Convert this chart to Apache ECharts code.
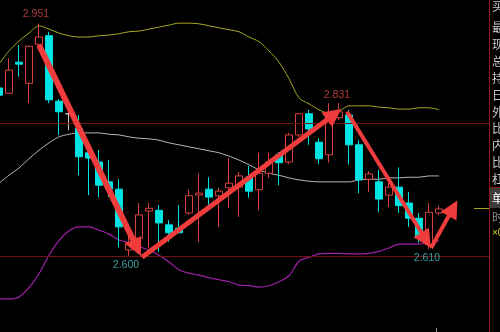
<!DOCTYPE html>
<html><head><meta charset="utf-8">
<script src="https://cdn.jsdelivr.net/npm/echarts@6/dist/echarts.min.js"></script>
<style>html,body{margin:0;padding:0;background:#000;}#c{width:500px;height:332px;}</style>
</head><body><div id="c"></div>
<script>
// ---- data ----
const slotCount = 50; // 45 candles + empty slots to the right
const opens  = [2.854,2.846,2.893,2.861,2.920,2.933,2.834,2.815,2.793,2.756,2.742,2.712,2.701,2.609,2.627,2.668,2.669,2.647,2.642,2.665,2.692,2.701,2.691,2.703,2.704,2.719,2.700,2.725,2.753,2.742,2.783,2.815,2.772,2.753,2.809,2.813,2.768,2.716,2.712,2.692,2.704,2.680,2.657,2.617,2.665];
const closes = [2.843,2.881,2.890,2.917,2.931,2.836,2.818,2.815,2.750,2.748,2.707,2.701,2.644,2.620,2.662,2.672,2.650,2.635,2.635,2.691,2.695,2.689,2.698,2.710,2.721,2.698,2.725,2.742,2.741,2.783,2.815,2.792,2.747,2.813,2.818,2.768,2.715,2.724,2.686,2.704,2.676,2.657,2.627,2.666,2.671];
const lows   = [2.840,2.846,2.871,2.831,2.914,2.831,2.783,2.790,2.722,2.692,2.689,2.689,2.613,2.600,2.618,2.612,2.606,2.621,2.635,2.662,2.621,2.677,2.644,2.672,2.659,2.688,2.669,2.718,2.707,2.739,2.780,2.768,2.739,2.741,2.806,2.738,2.695,2.697,2.666,2.674,2.665,2.644,2.620,2.610,2.662];
const highs  = [2.857,2.899,2.919,2.917,2.951,2.939,2.837,2.831,2.813,2.765,2.760,2.745,2.716,2.635,2.680,2.680,2.677,2.654,2.677,2.700,2.725,2.719,2.703,2.748,2.727,2.736,2.756,2.756,2.757,2.786,2.816,2.821,2.778,2.831,2.831,2.821,2.775,2.728,2.730,2.715,2.734,2.697,2.665,2.680,2.676];
const dojiIndex = [7];
const upperBand = [2.890,2.910,2.925,2.937,2.948,2.943,2.937,2.933,2.931,2.931,2.933,2.934,2.936,2.939,2.940,2.943,2.946,2.949,2.952,2.952,2.951,2.948,2.945,2.942,2.939,2.931,2.924,2.910,2.893,2.868,2.839,2.830,2.821,2.816,2.819,2.827,2.827,2.827,2.825,2.824,2.822,2.822,2.824,2.824,2.821];
const midBand   = [2.710,2.722,2.733,2.747,2.760,2.771,2.780,2.784,2.786,2.786,2.786,2.784,2.783,2.780,2.778,2.777,2.775,2.771,2.768,2.765,2.762,2.759,2.756,2.751,2.745,2.738,2.730,2.725,2.722,2.718,2.715,2.713,2.712,2.712,2.712,2.712,2.715,2.716,2.716,2.718,2.718,2.719,2.719,2.721,2.721];
const lowerBand = [2.535,2.535,2.538,2.552,2.573,2.601,2.623,2.638,2.644,2.644,2.639,2.633,2.624,2.620,2.614,2.609,2.601,2.591,2.579,2.574,2.571,2.567,2.564,2.561,2.556,2.555,2.553,2.555,2.561,2.570,2.592,2.598,2.603,2.604,2.604,2.603,2.603,2.604,2.607,2.612,2.618,2.618,2.618,2.620,2.623];
const levelLines = [2.802, 2.597];
// arrows: [startIndex, startPrice, endIndex, endPrice]
const arrowStartX = [4.0, 14.3, 34.8, 43.2];
const arrowStartY = [2.919, 2.598, 2.818, 2.612];
const arrowEndX   = [13.8, 33.5, 42.7, 45.4];
const arrowEndY   = [2.612, 2.814, 2.624, 2.672];
// price tags
const tagText  = ['2.951', '2.600', '2.831', '2.610'];
const tagX     = [3.7, 12.7, 33.8, 42.8];
const tagY     = [2.966, 2.586, 2.843, 2.596];
const tagColor = ['#d84848', '#48c4c4', '#d84848', '#48c4c4'];
// right-hand panel labels
const panelLabels = ['买','最','现','总','持','日','外','比','内','比','杠','单','时','×0'];
const panelLabelY = [6,27,44,61,78,95,112,128,145,162,179,198,217,233];

// ---- build ----
const UP = '#d84040', DOWN = '#00e4e4';
const arrowWidths = [6, 5, 4, 4];
const cats = Array.from({length: slotCount}, (_, i) => String(i));
const candleData = opens.map((o, i) => {
  const v = [o, closes[i], lows[i], highs[i]];
  if (dojiIndex.includes(i)) return {value: v, itemStyle: {color: '#c8c8c8', borderColor: '#c8c8c8', color0: '#c8c8c8', borderColor0: '#c8c8c8'}};
  return v;
});
const arrows = arrowStartX.map((x, i) => ({coords: [[x, arrowStartY[i]], [arrowEndX[i], arrowEndY[i]]],
  lineStyle: {width: arrowWidths[i]}}));
const tags = tagText.map((t, i) => ({name: t, value: [tagX[i], tagY[i]], label: {color: tagColor[i]}}));

const graphics = [
  {type: 'line', shape: {x1: 489.5, y1: 0, x2: 489.5, y2: 332}, style: {stroke: '#8a1a1a', lineWidth: 1}, z: 10},
  {type: 'rect', shape: {x: 490, y: 188, width: 12, height: 20}, style: {fill: '#3c3c3c'}, z: 9},
  {type: 'line', shape: {x1: 490, y1: 187.5, x2: 500, y2: 187.5}, style: {stroke: '#8a1a1a', lineWidth: 1}, z: 10},
  {type: 'line', shape: {x1: 474, y1: 208.5, x2: 489, y2: 208.5}, style: {stroke: '#a8a820', lineWidth: 1}, z: 10},
  {type: 'line', shape: {x1: 436.5, y1: 328, x2: 436.5, y2: 332}, style: {stroke: '#909090', lineWidth: 1}, z: 10}
];
panelLabels.forEach((t, i) => {
  let fill = '#c8c8c8';
  if (t === '单') fill = '#ffffff';
  if (t === '时') fill = '#8a8a8a';
  if (t === '×0') fill = '#d0d020';
  graphics.push({type: 'text', style: {text: t, x: 492, y: panelLabelY[i], fill: fill,
    font: (t === '×0' ? '10px "Liberation Sans"' : '12px "Noto Sans CJK SC"'), textVerticalAlign: 'middle', textAlign: 'left'}, z: 11});
});

const chart = echarts.init(document.getElementById('c'), null, {renderer: 'canvas'});
chart.setOption({
  backgroundColor: '#000',
  animation: false,
  grid: {left: -1, right: 11, top: 0, bottom: 0, containLabel: false, outerBoundsMode: 'none'},
  xAxis: [
    {type: 'category', data: cats, boundaryGap: false, show: false},
    {type: 'value', min: 0, max: slotCount - 1, show: false}
  ],
  yAxis: [{type: 'value', min: 2.485, max: 2.987, show: false, splitLine: {show: false}}],
  series: [
    {type: 'line', data: upperBand, symbol: 'none', smooth: 0.3, lineStyle: {color: '#a8a820', width: 1}, z: 2,
     markLine: {silent: true, symbol: 'none', label: {show: false},
       lineStyle: {color: '#6e1414', width: 1, type: 'solid'},
       data: levelLines.map(v => ({yAxis: v}))}},
    {type: 'line', data: midBand, symbol: 'none', smooth: 0.3, lineStyle: {color: '#b4b4b4', width: 1}, z: 2},
    {type: 'line', data: lowerBand, symbol: 'none', smooth: 0.3, lineStyle: {color: '#a020a8', width: 1.2}, z: 2},
    {type: 'candlestick', data: candleData, barWidth: 8, z: 3,
     itemStyle: {color: '#000', borderColor: UP, color0: DOWN, borderColor0: DOWN, borderWidth: 1}},
    {type: 'lines', coordinateSystem: 'cartesian2d', xAxisIndex: 1, yAxisIndex: 0, z: 5,
     symbol: ['none', 'triangle'], symbolSize: 18,
     lineStyle: {color: '#f03c3c', width: 5, opacity: 1, curveness: 0},
     data: arrows},
    {type: 'scatter', xAxisIndex: 1, yAxisIndex: 0, z: 6, symbol: 'circle', symbolSize: 1,
     itemStyle: {color: 'transparent'},
     label: {show: true, position: 'inside', formatter: p => p.name, fontSize: 10.5, fontFamily: '"Liberation Sans", Arial'},
     data: tags}
  ],
  graphic: graphics
});
</script></body></html>
